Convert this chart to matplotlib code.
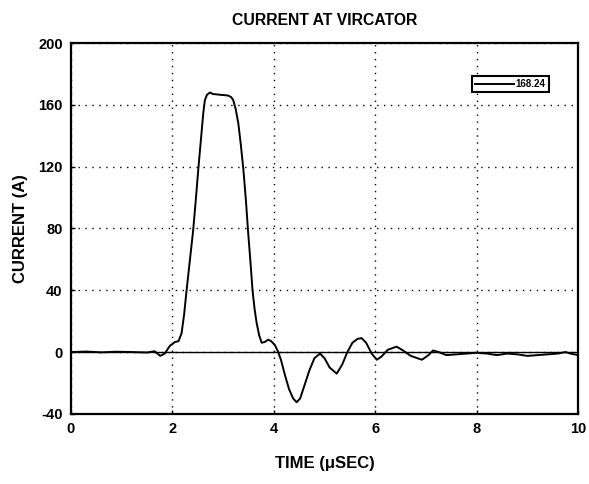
import matplotlib
matplotlib.use("Agg")
import matplotlib.pyplot as plt

plt.rcParams["font.family"] = ["Liberation Sans", "DejaVu Sans"]
plt.rcParams["font.weight"] = "bold"
plt.rcParams["axes.unicode_minus"] = False

# time (microseconds) and current (A)
time_us = [
    0.0, 0.3, 0.6, 0.9, 1.2, 1.5, 1.65, 1.76, 1.85, 1.95,
    2.05, 2.12, 2.18, 2.23, 2.28, 2.34, 2.41, 2.46, 2.51, 2.55,
    2.58, 2.61, 2.64, 2.68, 2.74, 2.80, 2.87, 2.95, 3.03, 3.10,
    3.16, 3.20, 3.25, 3.30, 3.35, 3.40, 3.45, 3.49, 3.54, 3.58,
    3.62, 3.66, 3.71, 3.76, 3.82, 3.89, 3.95, 4.02, 4.08, 4.14,
    4.22, 4.30, 4.38, 4.45, 4.52, 4.60, 4.70, 4.80, 4.91, 5.00,
    5.10, 5.24, 5.35, 5.45, 5.55, 5.65, 5.73, 5.82, 5.93, 6.03,
    6.12, 6.25, 6.42, 6.55, 6.70, 6.92, 7.05, 7.14, 7.25, 7.40,
    7.6, 7.8, 8.0, 8.2, 8.4, 8.6, 8.8, 9.0, 9.2, 9.4,
    9.6, 9.75, 9.85, 10.0,
]
current_a = [
    0.0, 0.3, -0.2, 0.2, 0.0, -0.3, 0.5, -2.5, -1.0, 4.0,
    6.5, 7.0, 12.0, 24.0, 40.0, 58.0, 79.0, 98.0, 118.0, 133.0,
    144.0, 155.0, 163.0, 166.5, 168.0, 167.0, 166.8, 166.5, 166.3, 166.0,
    165.0, 163.0, 157.0, 148.0, 134.0, 118.0, 98.0, 79.0, 58.0, 40.0,
    28.0, 19.0, 11.0, 6.0, 6.5, 8.0, 7.0, 4.5, 0.5, -5.0,
    -15.0, -24.0, -30.0, -32.5, -30.0, -22.0, -12.0, -4.0, -1.0, -4.0,
    -10.0, -14.0, -8.0, 0.0, 6.0, 8.5, 9.0, 6.0, -1.0, -5.0,
    -3.0, 1.5, 3.5, 1.0, -2.5, -5.0, -2.0, 1.0, 0.0, -2.0,
    -1.5, -1.0, -0.5, -1.0, -2.0, -1.0, -1.5, -2.5, -2.0, -1.5,
    -1.0, 0.0, -1.0, -2.0,
]

x_ticks = [0, 2, 4, 6, 8, 10]
y_ticks = [-40, 0, 40, 80, 120, 160, 200]
legend_label = "168.24"

fig = plt.figure(figsize=(5.89, 4.84), dpi=100)
ax = fig.add_axes([0.1205, 0.145, 0.861, 0.766])

ax.plot(time_us, current_a, color="black", linewidth=1.4, label=legend_label)
ax.axhline(0, color="black", linewidth=1.0, zorder=1)

ax.set_xlim(0, 10)
ax.set_ylim(-40, 200)
ax.set_xticks(x_ticks)
ax.set_yticks(y_ticks)
ax.grid(True, color="black", linestyle=(0, (1, 4)), linewidth=1.0)
ax.tick_params(direction="in", length=3, width=1, labelsize=10.5, pad=6)
for lbl in ax.get_xticklabels() + ax.get_yticklabels():
    lbl.set_fontweight("bold")
for spine in ax.spines.values():
    spine.set_linewidth(1.6)

ax.set_title("CURRENT AT VIRCATOR", fontsize=11.3, fontweight="bold", pad=13)
ax.set_xlabel("TIME (μSEC)", fontsize=12, fontweight="bold", labelpad=14)
ax.set_ylabel("CURRENT (A)", fontsize=12, fontweight="bold", labelpad=7)

leg = ax.legend(
    loc="upper left",
    bbox_to_anchor=(0.791, 0.91),
    prop={"size": 7, "weight": "bold"},
    frameon=True,
    fancybox=False,
    framealpha=1,
    edgecolor="black",
    handlelength=4.0,
    handletextpad=0.2,
    borderpad=0.3,
    borderaxespad=0,
)
leg.get_frame().set_linewidth(1.5)

fig.savefig("out.png", dpi=100)
